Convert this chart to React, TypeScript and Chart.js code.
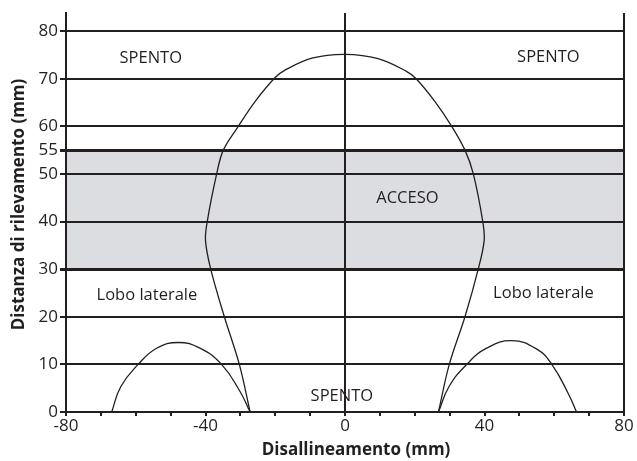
import React, { useEffect, useRef } from "react";
import { Chart, registerables } from "chart.js";

Chart.register(...registerables);

// ---------- data ----------
const X_MIN = -80;
const X_MAX = 80;
const Y_MIN = 0;
const Y_MAX = 83.8;

const X_TICKS = [-80, -70, -60, -50, -40, -30, -20, -10, 0, 10, 20, 30, 40, 50, 60, 70, 80];
const X_LABELED = [-80, -40, 0, 40, 80];
const X_GRID_LINES = [0, 80];
const Y_TICKS = [0, 10, 20, 30, 40, 50, 55, 60, 70, 80];
const Y_THICK = [30, 55];
const ACCESO_BAND = [30, 55];

const MAIN_LOBE_X = [-27.2, -30.3, -34.6, -38.5, -40.0, -39.5, -36.8, -34.9, -30.6, -25.8, -20.1, -17.2, -9.5, 0, 9.5, 17.5, 20.4, 25.8, 30.6, 34.4, 36.8, 39.5, 39.9, 38.2, 34.4, 29.9, 26.8];
const MAIN_LOBE_Y = [0, 10, 20, 30, 36, 40, 50, 55, 60, 65.2, 70.2, 71.8, 74.3, 75.1, 74.2, 71.6, 70, 65.2, 60, 55, 50, 40, 36, 30, 20, 10, 0];

const LEFT_LOBE_X = [-66.9, -64.3, -59.3, -54.0, -47.8, -41.6, -35.4, -30.1, -27.2];
const LEFT_LOBE_Y = [0, 5.3, 10, 13.4, 14.6, 13.4, 10, 4.3, 0];

const RIGHT_LOBE_X = [26.8, 29.8, 34.9, 40.6, 47.8, 55.0, 59.3, 64.0, 66.4];
const RIGHT_LOBE_Y = [0, 5.3, 10, 13.4, 15.0, 13.2, 10, 3.9, 0];

const LABEL_TEXTS = ["SPENTO", "SPENTO", "ACCESO", "Lobo laterale", "Lobo laterale", "SPENTO"];
const LABEL_X = [-55.7, 58.3, 17.9, -56.8, 56.9, -0.9];
const LABEL_Y = [74.2, 74.6, 44.9, 24.6, 25.0, 3.2];

const X_TITLE = "Disallineamento (mm)";
const Y_TITLE = "Distanza di rilevamento (mm)";

// ---------- styles ----------
const INK = "#231f20";
const BAND = "#dcdde0";
const FAMILY = "'Open Sans', 'Noto Sans', sans-serif";

const toPoints = (xs: number[], ys: number[]) => xs.map((x, i) => ({ x, y: ys[i] }));

const bandPlugin = {
  id: "accesoBand",
  beforeDraw(chart: any) {
    const { ctx, chartArea, scales } = chart;
    const yTop = scales.y.getPixelForValue(ACCESO_BAND[1]);
    const yBot = scales.y.getPixelForValue(ACCESO_BAND[0]);
    ctx.save();
    ctx.fillStyle = BAND;
    ctx.fillRect(chartArea.left, yTop, chartArea.right - chartArea.left, yBot - yTop);
    ctx.restore();
  },
};

const textPlugin = {
  id: "texts",
  afterDraw(chart: any) {
    const { ctx, chartArea, scales } = chart;
    ctx.save();
    ctx.fillStyle = INK;
    ctx.textAlign = "center";
    ctx.textBaseline = "middle";
    ctx.font = `16.5px ${FAMILY}`;
    LABEL_TEXTS.forEach((t, i) => {
      ctx.fillText(t, scales.x.getPixelForValue(LABEL_X[i]), scales.y.getPixelForValue(LABEL_Y[i]));
    });
    // axis titles
    ctx.font = `bold 17px ${FAMILY}`;
    const cx = (chartArea.left + chartArea.right) / 2 + 11;
    ctx.fillText(X_TITLE, cx, chart.height - 11);
    ctx.translate(19, (chartArea.top + chartArea.bottom) / 2 - 8);
    ctx.rotate(-Math.PI / 2);
    ctx.fillText(Y_TITLE, 0, 0);
    ctx.restore();
  },
};

export default function App() {
  const ref = useRef<HTMLCanvasElement | null>(null);

  useEffect(() => {
    if (!ref.current) return;
    const lineStyle = {
      borderColor: INK,
      borderWidth: 1.3,
      pointRadius: 0,
      fill: false,
      showLine: true,
    };
    const chart = new Chart(ref.current, {
      type: "line",
      data: {
        datasets: [
          { ...lineStyle, tension: 0.35, data: toPoints(MAIN_LOBE_X, MAIN_LOBE_Y) },
          { ...lineStyle, tension: 0.45, data: toPoints(LEFT_LOBE_X, LEFT_LOBE_Y) },
          { ...lineStyle, tension: 0.45, data: toPoints(RIGHT_LOBE_X, RIGHT_LOBE_Y) },
        ],
      },
      options: {
        animation: false,
        responsive: false,
        devicePixelRatio: 1,
        layout: { padding: { left: 0, top: 13, right: 13, bottom: 0 } },
        plugins: { legend: { display: false }, tooltip: { enabled: false } },
        scales: {
          x: {
            type: "linear",
            position: "bottom",
            min: X_MIN,
            max: X_MAX,
            afterBuildTicks: (s: any) => {
              s.ticks = X_TICKS.map((v) => ({ value: v }));
            },
            afterFit: (s: any) => {
              s.height = 49;
            },
            ticks: {
              autoSkip: false,
              maxRotation: 0,
              padding: 0,
              color: INK,
              font: { family: FAMILY, size: 17 },
              callback: (v: any) => (X_LABELED.includes(Number(v)) ? String(v) : ""),
            },
            grid: {
              color: (c: any) => (c.tick && X_GRID_LINES.includes(c.tick.value) ? INK : "rgba(0,0,0,0)"),
              tickColor: INK,
              lineWidth: 2,
              tickLength: 4,
            },
            border: { color: INK, width: 2 },
          },
          y: {
            type: "linear",
            min: Y_MIN,
            max: Y_MAX,
            afterBuildTicks: (s: any) => {
              s.ticks = Y_TICKS.map((v) => ({ value: v }));
            },
            afterFit: (s: any) => {
              s.width = 66;
            },
            ticks: {
              autoSkip: false,
              padding: 2,
              color: INK,
              font: { family: FAMILY, size: 17 },
            },
            grid: {
              color: INK,
              tickColor: INK,
              lineWidth: (c: any) => (c.tick && Y_THICK.includes(c.tick.value) ? 3 : 2),
              tickLength: 6,
            },
            border: { color: INK, width: 2 },
          },
        },
      },
      plugins: [bandPlugin, textPlugin],
    } as any);
    return () => chart.destroy();
  }, []);

  return (
    <div style={{ position: "fixed", left: 0, top: 0, width: 637, height: 461, background: "#fff" }}>
      <canvas ref={ref} width={637} height={461} />
    </div>
  );
}
